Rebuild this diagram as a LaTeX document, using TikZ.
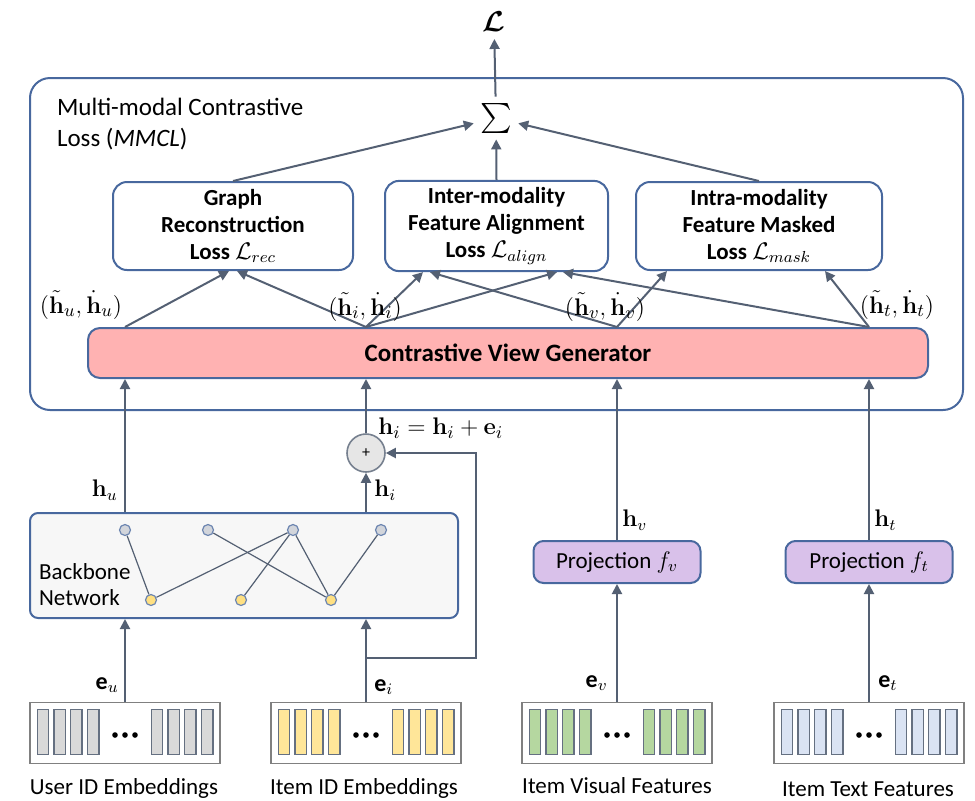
\documentclass[tikz,border=0pt]{standalone}
\usepackage{amsmath, amssymb}
\usepackage[no-math]{fontspec}
\setmainfont{Carlito}
\usepackage{tikz}
\usetikzlibrary{calc, positioning, arrows.meta, fit}
\usepackage{xcolor}
\definecolor{lineC}{RGB}{84, 96, 115}
\definecolor{boxB}{RGB}{72, 104, 158}
\definecolor{cvgFill}{RGB}{255, 178, 178}
\definecolor{projFill}{RGB}{217, 193, 234}
\definecolor{bbFill}{RGB}{247, 247, 247}
\definecolor{plusFill}{RGB}{230, 230, 230}
\definecolor{nodeGray}{RGB}{210, 213, 219}
\definecolor{nodeYellow}{RGB}{255, 224, 130}
\definecolor{cellGray}{RGB}{217, 217, 217}
\definecolor{cellYellow}{RGB}{255, 230, 153}
\definecolor{cellGreen}{RGB}{181, 215, 160}
\definecolor{cellBlue}{RGB}{218, 227, 243}

\begin{document}
\begin{tikzpicture}[x=0.5pt, y=-0.5pt, font=\fontsize{11.5}{13.5}\selectfont,
  arr/.style={draw=lineC, line width=1pt, -{Triangle[length=5pt, width=5pt]}},
  link/.style={draw=lineC, line width=0.6pt},
  lossbox/.style={draw=boxB, line width=1pt, rounded corners=7pt, fill=white,
    align=center, font=\fontsize{11.5}{13.5}\selectfont\bfseries, minimum height=44pt},
  projbox/.style={draw=boxB, line width=1pt, rounded corners=5pt, fill=projFill,
    minimum width=83.5pt, minimum height=21pt},
  embbox/.style={draw=gray, line width=0.8pt, minimum width=95pt, minimum height=30.5pt},
  cellbox/.style={draw=lineC!90, line width=0.7pt},
  gnode/.style={circle, draw=boxB!80, line width=0.6pt, inner sep=0pt, minimum size=5.5pt},
  mlab/.style={font=\fontsize{12}{14}\selectfont, inner sep=1pt},
  tlab/.style={font=\fontsize{13}{15}\selectfont, inner sep=1pt}]
  \useasboundingbox (0,0) rectangle (975,800);

  % MMCL frame
  \draw[boxB, line width=1pt, rounded corners=10pt] (30,78) rectangle (963,410);
  \node[anchor=north west, align=left, font=\fontsize{12.5}{15.5}\selectfont] (mmcl) at (50,91)
    {Multi-modal Contrastive\\Loss (\textit{MMCL})};

  % total loss
  \node[font=\fontsize{15}{15}\selectfont, inner sep=3pt] (sum) at (496,118) {$\textstyle\sum$};
  \node[font=\fontsize{15}{15}\selectfont] (L) at (494,22) {$\boldsymbol{\mathcal{L}}$};
  \draw[arr] (sum) -- (L);

  % the three losses
  \node[lossbox, minimum width=120pt] (graph) at (233,226)
    {Graph\\Reconstruction\\Loss $\mathcal{L}_{rec}$};
  \node[lossbox, minimum width=111.5pt] (inter) at (496.5,226)
    {Inter-modality\\Feature Alignment\\Loss $\mathcal{L}_{align}$};
  \node[lossbox, minimum width=123pt] (intra) at (759,226)
    {Intra-modality\\Feature Masked\\Loss $\mathcal{L}_{mask}$};
  \draw[arr] (graph.north) -- (sum);
  \draw[arr] (inter.north) -- (sum);
  \draw[arr] (intra.north) -- (sum);

  % view generator
  \node[draw=boxB, line width=1pt, rounded corners=6pt, fill=cvgFill, minimum width=420pt,
    minimum height=25pt, font=\fontsize{12.5}{14}\selectfont\bfseries] (cvg) at (508,353)
    {Contrastive View Generator};

  % embeddings
  \node[embbox] (embU) at (125,733) {};
  \node[embbox] (embI) at (366,733) {};
  \node[embbox] (embV) at (617,733) {};
  \node[embbox] (embT) at (869,733) {};
  \foreach \e/\c in {embU/cellGray, embI/cellYellow, embV/cellGreen, embT/cellBlue} {
    \foreach \k in {0,...,3} {
      \draw[cellbox, fill=\c] ([shift={(8+16.7*\k,8)}]\e.north west) rectangle ++(11.5,45);
      \draw[cellbox, fill=\c] ([shift={(122+16.7*\k,8)}]\e.north west) rectangle ++(11.5,45);
    }
    \foreach \d in {-10,0,10}
      \fill ([shift={(\d,2)}]\e) circle (1.4pt);
  }
  \node (labU) at (124,788) {User ID Embeddings};
  \node (labI) at (364,788) {Item ID Embeddings};
  \node (labV) at (617,786) {Item Visual Features};
  \node (labT) at (868,789) {Item Text Features};

  % backbone
  \node[draw=boxB, line width=1pt, rounded corners=4pt, fill=bbFill, minimum width=214pt,
    minimum height=52.5pt] (bb) at (244,565.5) {};
  \node[anchor=west, align=left, font=\fontsize{11.5}{13}\selectfont] (bblab) at (32,585)
    {Backbone\\Network};
  \foreach \x [count=\k] in {125,208,293,381}
    \node[gnode, fill=nodeGray] (g\k) at (\x,530) {};
  \foreach \x [count=\k] in {151,241,331}
    \node[gnode, fill=nodeYellow] (b\k) at (\x,600) {};
  \foreach \a/\b in {1/1, 3/1, 2/3, 3/2, 3/3, 4/3}
    \draw[link] (g\a) -- (b\b);

  % projections
  \node[projbox] (projV) at (617,562) {Projection $f_v$};
  \node[projbox] (projT) at (869,562) {Projection $f_t$};

  % fusion of item id embedding
  \node[circle, draw=lineC!80, line width=0.8pt, fill=plusFill, minimum size=19pt,
    inner sep=0pt, font=\fontsize{8}{8}\selectfont] (plus) at (366,453) {+};
  \coordinate (split) at (366,658);

  % vertical flow
  \draw[arr] (embU.north) -- (bb.south -| embU);
  \draw[arr] (embI.north) -- (bb.south -| embI);
  \draw[arr] (embV.north) -- (projV.south);
  \draw[arr] (embT.north) -- (projT.south);
  \draw[arr] (split) -- ++(110,0) |- (plus.east);
  \draw[arr] (bb.north -| embU) -- (cvg.south -| embU);
  \draw[arr] (bb.north -| plus) -- (plus.south);
  \draw[arr] (plus.north) -- (cvg.south -| plus);
  \draw[arr] (projV.north) -- (cvg.south -| projV);
  \draw[arr] (projT.north) -- (cvg.south -| projT);

  % views to losses
  \draw[arr] (cvg.north -| embU) -- ([xshift=-2pt]graph.south);
  \draw[arr] (cvg.north -| embI) -- ([xshift=2pt]graph.south);
  \draw[arr] (cvg.north -| embI) -- ([xshift=-36.75pt]inter.south);
  \draw[arr] (cvg.north -| embI) -- ([xshift=30.25pt]inter.south);
  \draw[arr] (cvg.north -| embV) -- ([xshift=-33.25pt]inter.south);
  \draw[arr] (cvg.north -| embV) -- ([xshift=-46pt]intra.south);
  \draw[arr] (cvg.north -| embT) -- ([xshift=33.25pt]inter.south);
  \draw[arr] (cvg.north -| embT) -- ([xshift=33pt]intra.south);

  % labels
  \node[tlab] (tu) at (81,305) {$(\tilde{\mathbf{h}}_u, \dot{\mathbf{h}}_u)$};
  \node[tlab] (ti) at (365,307) {$(\tilde{\mathbf{h}}_i, \dot{\mathbf{h}}_i)$};
  \node[tlab] (tv) at (605,307) {$(\tilde{\mathbf{h}}_v, \dot{\mathbf{h}}_v)$};
  \node[tlab] (tt) at (897,305) {$(\tilde{\mathbf{h}}_t, \dot{\mathbf{h}}_t)$};
  \node[mlab, anchor=east] (hu) at (120,490) {$\mathbf{h}_u$};
  \node[mlab, anchor=west] (hi) at (372,490) {$\mathbf{h}_i$};
  \node[tlab, anchor=west] (hsum) at (376,428) {$\mathbf{h}_i = \mathbf{h}_i + \mathbf{e}_i$};
  \node[mlab, anchor=west] (hv) at (620,520) {$\mathbf{h}_v$};
  \node[mlab, anchor=west] (ht) at (872,520) {$\mathbf{h}_t$};
  \node[mlab, anchor=east] (eu) at (121,685) {$\text{\bfseries e}_u$};
  \node[mlab, anchor=west] (ei) at (372,687) {$\text{\bfseries e}_i$};
  \node[mlab, anchor=east] (ev) at (610,683) {$\text{\bfseries e}_v$};
  \node[mlab, anchor=west] (et) at (876,683) {$\text{\bfseries e}_t$};
\end{tikzpicture}
\end{document}
